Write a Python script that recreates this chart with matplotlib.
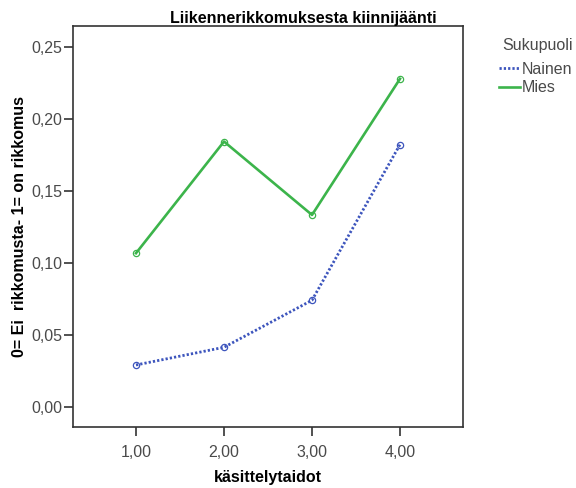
import matplotlib
matplotlib.use("Agg")
import matplotlib.pyplot as plt
from matplotlib.lines import Line2D

plt.rcParams['font.family'] = ['Liberation Sans', 'DejaVu Sans']

x_vals = [1, 2, 3, 4]
x_labels = ["1,00", "2,00", "3,00", "4,00"]
nainen = [0.029, 0.0413, 0.074, 0.1822]
mies = [0.1067, 0.1843, 0.1333, 0.2279]
y_ticks = [0.00, 0.05, 0.10, 0.15, 0.20, 0.25]
y_labels = ["0,00", "0,05", "0,10", "0,15", "0,20", "0,25"]

blue = "#3d55bd"
green = "#3cb44b"
dots = (0, (0.8, 0.75))

fig = plt.figure(figsize=(5.76, 4.88), dpi=100)
ax = fig.add_axes([73/576, 61/488, 390/576, 401/488])

ax.plot(x_vals, nainen, color=blue, lw=2.0, linestyle=dots,
        marker='o', mfc='none', mec=blue, ms=4.5, mew=0.9)
ax.plot(x_vals, mies, color=green, lw=1.9, marker='o', mfc='none',
        mec=green, ms=4.5, mew=0.9)

ax.set_xlim(0.284, 4.716)
ax.set_ylim(-0.0141, 0.2646)
ax.set_xticks(x_vals)
ax.set_xticklabels(x_labels)
ax.set_yticks(y_ticks)
ax.set_yticklabels(y_labels)
ax.tick_params(direction='out', length=6.5, width=1.2, color='#333333',
               labelsize=11.5, labelcolor='#4a4a4a')
ax.tick_params(axis='y', pad=1)
ax.tick_params(axis='x', pad=6.5)
for s in ax.spines.values():
    s.set_color('#333333')
    s.set_linewidth(1.2)

ax.set_xlabel("käsittelytaidot", fontsize=11.5, fontweight='bold', labelpad=7)
ax.set_ylabel("0= Ei  rikkomusta- 1= on rikkomus", fontsize=11.5,
              fontweight='bold', labelpad=3.5)
fig.text(303/576, 1 - 18/488, "Liikennerikkomuksesta kiinnijäänti",
         ha='center', va='center', fontsize=11.5, fontweight='bold')

fig.text(502.5/576, 1 - 46/488, "Sukupuoli", ha='left', va='center',
         fontsize=11.5, color='#4a4a4a')
handles = [Line2D([], [], color=blue, lw=2.0, linestyle=dots),
           Line2D([], [], color=green, lw=1.9)]
leg = fig.legend(handles, ["Nainen", "Mies"],
                 loc='upper left', bbox_to_anchor=(499/576, 1 - 62/488),
                 frameon=False, fontsize=11.5,
                 handlelength=1.32, handletextpad=0.12, labelspacing=0.2,
                 borderaxespad=0, borderpad=0)
for t in leg.get_texts():
    t.set_color('#4a4a4a')

fig.savefig("out.png", dpi=100)
